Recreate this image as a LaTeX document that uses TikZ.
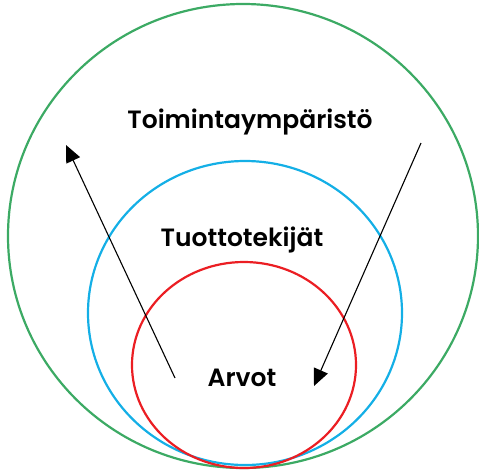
\documentclass[tikz,border=0pt]{standalone}
\usepackage{fontspec}
\setmainfont{Poppins}
\newfontfamily\labelfont{Poppins}[UprightFont={* SemiBold}]
\usetikzlibrary{arrows.meta}
\definecolor{ringgreen}{RGB}{60,170,100}
\definecolor{ringblue}{RGB}{20,175,230}
\definecolor{ringred}{RGB}{235,30,35}
\tikzset{
  ring/.style={line width=2.2pt},
  label/.style={font=\labelfont\fontsize{25}{30}\selectfont, text=black, inner sep=0pt},
  flow/.style={line width=1.1pt, -{Triangle[length=17pt,width=15pt]}}
}
\begin{document}
\begin{tikzpicture}[x=1pt,y=-1pt]
\useasboundingbox (0,0) rectangle (479,472);
\draw[ring, ringgreen] (243,236) ellipse [x radius=235, y radius=232];
\draw[ring, ringblue] (245,313) ellipse [x radius=157, y radius=152];
\draw[ring, ringred] (244,365) ellipse [x radius=112, y radius=103];
\node[label] (env) at (250,122) {Toimintaympäristö};
\node[label] (fac) at (242,240) {Tuottotekijät};
\node[label] (val) at (242,378) {Arvot};
\coordinate (upstart) at (175,378);
\coordinate (upend) at (66,145);
\coordinate (downstart) at (421,143);
\coordinate (downend) at (314,386);
\draw[flow] (upstart) -- (upend);
\draw[flow] (downstart) -- (downend);
\end{tikzpicture}
\end{document}
